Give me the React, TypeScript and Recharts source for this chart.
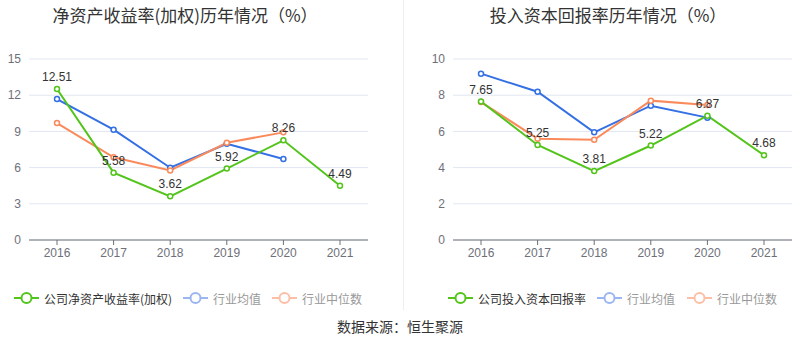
import React from 'react';
import { CartesianGrid, LabelList, Line, LineChart, XAxis, YAxis } from 'recharts';

const years = ['2016', '2017', '2018', '2019', '2020', '2021'];

// 净资产收益率(加权)
const roeCompany = [12.51, 5.58, 3.62, 5.92, 8.26, 4.49];
const roeIndustryAvg = [11.68, 9.14, 5.99, 7.98, 6.71, null];
const roeIndustryMedian = [9.69, 6.85, 5.77, 8.06, 8.92, null];
const roeTicks = [0, 3, 6, 9, 12, 15];

// 投入资本回报率
const roicCompany = [7.65, 5.25, 3.81, 5.22, 6.87, 4.68];
const roicIndustryAvg = [9.19, 8.19, 5.95, 7.42, 6.76, null];
const roicIndustryMedian = [7.62, 5.6, 5.54, 7.7, 7.46, null];
const roicTicks = [0, 2, 4, 6, 8, 10];

const COLORS = {
  company: '#52c41a',
  avg: '#3470e4',
  median: '#fa8a5b',
  avgLight: '#9ab6f2',
  medianLight: '#fcbfa6',
};

const FONT = '"Liberation Sans", "Noto Sans CJK SC", sans-serif';
const CJK = '"Noto Sans CJK SC", sans-serif';

const buildRows = (company: number[], avg: (number | null)[], median: (number | null)[]) =>
  years.map((year, i) => ({ year, company: company[i], avg: avg[i], median: median[i] }));

interface PanelProps {
  left: number;
  yAxisWidth: number;
  marginRight: number;
  ticks: number[];
  rows: ReturnType<typeof buildRows>;
  companyName: string;
}

function Panel({ left, yAxisWidth, marginRight, ticks, rows, companyName }: PanelProps) {
  const dot = (color: string) => ({ r: 2.5, fill: '#fff', stroke: color, strokeWidth: 1.5 });
  return (
    <div style={{ position: 'absolute', left, top: 0 }}>
      <LineChart
        width={400}
        height={270}
        data={rows}
        margin={{ top: 59, right: marginRight, left: 0, bottom: 0 }}
        style={{ fontFamily: FONT }}
      >
        <CartesianGrid vertical={false} stroke="#e0e6f1" />
        <XAxis
          dataKey="year"
          height={30}
          tickSize={5}
          tickMargin={3}
          stroke="#6e7079"
          tick={{ fill: '#6e7079', fontSize: 12 }}
          padding={{ left: 28, right: 28 }}
          interval={0}
        />
        <YAxis
          width={yAxisWidth}
          domain={[ticks[0], ticks[ticks.length - 1]]}
          ticks={ticks}
          axisLine={false}
          tickLine={false}
          tick={{ fill: '#6e7079', fontSize: 12 }}
        />
        <Line
          dataKey="avg"
          name="行业均值"
          stroke={COLORS.avg}
          strokeWidth={2}
          dot={dot(COLORS.avg)}
          isAnimationActive={false}
        />
        <Line
          dataKey="median"
          name="行业中位数"
          stroke={COLORS.median}
          strokeWidth={2}
          dot={dot(COLORS.median)}
          isAnimationActive={false}
        />
        <Line
          dataKey="company"
          name={companyName}
          stroke={COLORS.company}
          strokeWidth={2}
          dot={dot(COLORS.company)}
          isAnimationActive={false}
        >
          <LabelList dataKey="company" position="top" offset={8} fill="#333" fontSize={12} />
        </Line>
      </LineChart>
    </div>
  );
}

// custom legend row: icon line with hollow circle + label
function LegendItem({ x, color, label, textColor }: { x: number; color: string; label: string; textColor: string }) {
  return (
    <div style={{ position: 'absolute', left: x, top: 290, height: 16, display: 'flex', alignItems: 'center' }}>
      <svg width={25} height={16}>
        <line x1={0} y1={8} x2={25} y2={8} stroke={color} strokeWidth={2} />
        <circle cx={12.5} cy={8} r={5} fill="#fff" stroke={color} strokeWidth={2} />
      </svg>
      <span style={{ marginLeft: 5, fontSize: 12, color: textColor, fontFamily: CJK, whiteSpace: 'nowrap' }}>{label}</span>
    </div>
  );
}

export default function App() {
  return (
    <div style={{ position: 'absolute', left: 0, top: 0, width: 800, height: 358, background: '#fff', overflow: 'hidden' }}>
      <div style={{ position: 'absolute', left: 185, top: 2, transform: 'translateX(-50%)', fontSize: 17, color: '#333', fontFamily: CJK, whiteSpace: 'nowrap' }}>
        净资产收益率(加权)历年情况（%）
      </div>
      <div style={{ position: 'absolute', left: 608, top: 2, transform: 'translateX(-50%)', fontSize: 17, color: '#333', fontFamily: CJK, whiteSpace: 'nowrap' }}>
        投入资本回报率历年情况（%）
      </div>
      <div style={{ position: 'absolute', left: 403, top: 0, width: 1, height: 310, background: '#eee' }} />

      <Panel
        left={0}
        yAxisWidth={29}
        marginRight={32}
        ticks={roeTicks}
        rows={buildRows(roeCompany, roeIndustryAvg, roeIndustryMedian)}
        companyName="公司净资产收益率(加权)"
      />
      <Panel
        left={400}
        yAxisWidth={53}
        marginRight={8}
        ticks={roicTicks}
        rows={buildRows(roicCompany, roicIndustryAvg, roicIndustryMedian)}
        companyName="公司投入资本回报率"
      />

      <LegendItem x={14} color={COLORS.company} label="公司净资产收益率(加权)" textColor="#333" />
      <LegendItem x={183} color={COLORS.avgLight} label="行业均值" textColor="#999" />
      <LegendItem x={272} color={COLORS.medianLight} label="行业中位数" textColor="#999" />

      <LegendItem x={448} color={COLORS.company} label="公司投入资本回报率" textColor="#333" />
      <LegendItem x={597} color={COLORS.avgLight} label="行业均值" textColor="#999" />
      <LegendItem x={687} color={COLORS.medianLight} label="行业中位数" textColor="#999" />

      <div style={{ position: 'absolute', left: 400, top: 316, transform: 'translateX(-50%)', fontSize: 14, color: '#333', fontFamily: CJK, whiteSpace: 'nowrap' }}>
        数据来源：恒生聚源
      </div>
    </div>
  );
}
